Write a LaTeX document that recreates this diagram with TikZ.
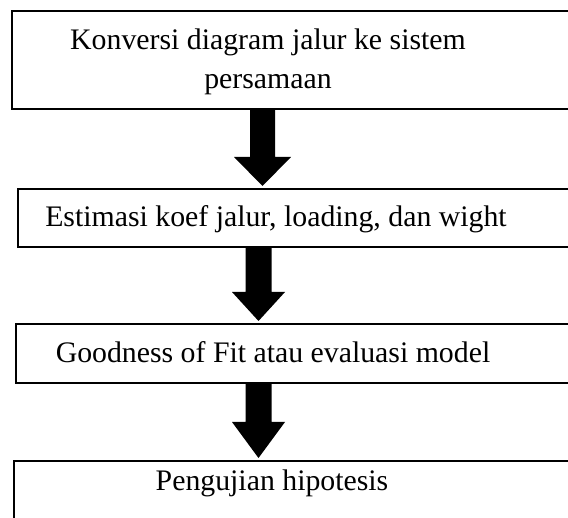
\documentclass[tikz,border=0pt]{standalone}
\usepackage{fontspec}
\setmainfont{Liberation Serif}
\usetikzlibrary{calc}
\tikzset{
  box/.style={draw=black, line width=2pt, rectangle, outer sep=0pt, inner sep=0pt, anchor=north west, fill=white},
  label/.style={font=\fontsize{29.8}{39.5}\selectfont, anchor=base, inner sep=0pt, align=center},
  blockarrow/.style={fill=black}
}
\newcommand{\flowarrow}[6]{%
  % #1 x centre, #2 start node, #3 end node, #4 shaft half width, #5 head half width, #6 head length
  \fill[blockarrow] (#1-#4,0 |- #2.south) -- (#1+#4,0 |- #2.south)
    -- ($(#1+#4,0 |- #3.north)+(0,-3-#6)$) -- ($(#1+#5,0 |- #3.north)+(0,-3-#6)$)
    -- ($(#1,0 |- #3.north)+(0,-3)$)
    -- ($(#1-#5,0 |- #3.north)+(0,-3-#6)$) -- ($(#1-#4,0 |- #3.north)+(0,-3-#6)$) -- cycle;
}
\begin{document}
\begin{tikzpicture}[x=1pt,y=-1pt]
\useasboundingbox (0,0) rectangle (568,518);
\clip (0,0) rectangle (568,518);
\node[box, minimum width=600pt, minimum height=98pt] (b1) at (12,11) {};
\node[box, minimum width=600pt, minimum height=58pt] (b2) at (18,189) {};
\node[box, minimum width=600pt, minimum height=59pt] (b3) at (16,324) {};
\node[box, minimum width=600pt, minimum height=80pt] (b4) at (14,461) {};
\node[label] (t1) at (268,89) {Konversi diagram jalur ke sistem\\persamaan};
\node[label] (t2) at (276,227) {Estimasi koef jalur, loading, dan wight};
\node[label] (t3) at (273,363) {Goodness of Fit atau evaluasi model};
\node[label] (t4) at (272,491) {Pengujian hipotesis};
\flowarrow{262.5}{b1}{b2}{12.5}{28.5}{29}
\flowarrow{258.5}{b2}{b3}{13}{26.5}{29}
\flowarrow{258.5}{b3}{b4}{13}{26.5}{36}
\end{tikzpicture}
\end{document}
